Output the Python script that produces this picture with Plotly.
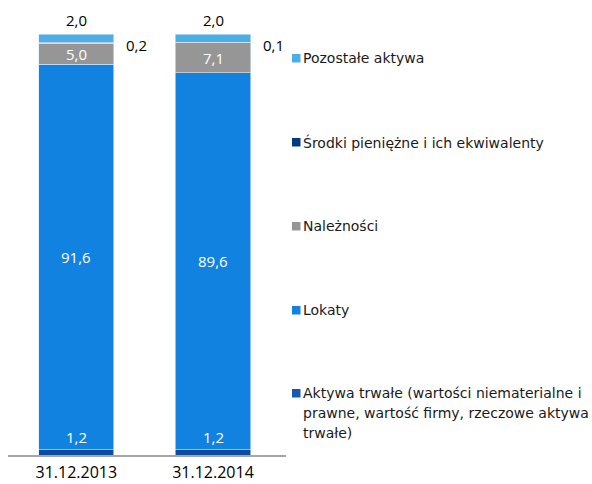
import plotly.graph_objects as go

# Asset structure (% of total), bottom to top of each stacked bar
categories = ["31.12.2013", "31.12.2014"]
series_names = [
    "Aktywa trwałe (wartości niematerialne i<br>prawne, wartość firmy, rzeczowe aktywa<br>trwałe)",
    "Lokaty",
    "Należności",
    "Środki pieniężne i ich ekwiwalenty",
    "Pozostałe aktywa",
]
aktywa_trwale = [1.2, 1.2]
lokaty = [91.6, 89.6]
naleznosci = [5.0, 7.1]
srodki = [0.2, 0.1]
pozostale = [2.0, 2.0]
series_values = [aktywa_trwale, lokaty, naleznosci, srodki, pozostale]
colors = ["#0B4C9E", "#1282E0", "#969696", "#003A7D", "#4BAEE4"]
legend_colors = ["#1A57B2", "#1282E0", "#969696", "#003D80", "#4BAEE4"]

LABEL_FONT = "Open Sans, Noto Sans, sans-serif"
LEGEND_FONT = "DejaVu Sans, Verdana, sans-serif"

def fmt(v):
    return f"{v:.1f}".replace(".", ",")

fig = go.Figure()
for name, vals, col in zip(series_names, series_values, colors):
    fig.add_trace(go.Bar(
        x=categories, y=vals, name=name,
        marker=dict(color=col, line=dict(color="#DCEBF8", width=0.6)),
        showlegend=False, hoverinfo="skip",
    ))

annotations = []
for ci, cat in enumerate(categories):
    base = 0.0
    tops = []
    for vals in series_values:
        tops.append((base, base + vals[ci]))
        base += vals[ci]
    # Aktywa trwałe: white label just above its thin segment
    b, t = tops[0]
    annotations.append(dict(x=cat, y=t, text=fmt(aktywa_trwale[ci]), yanchor="bottom",
                            yshift=1, showarrow=False,
                            font=dict(color="white", size=15, family=LABEL_FONT)))
    # Lokaty and Należności: white labels centred in the segment
    for si in (1, 2):
        b, t = tops[si]
        annotations.append(dict(x=cat, y=(b + t) / 2, text=fmt(series_values[si][ci]),
                                showarrow=False,
                                font=dict(color="white", size=15, family=LABEL_FONT)))
    # Środki pieniężne: label to the right of the bar
    b, t = tops[3]
    annotations.append(dict(x=cat, y=(b + t) / 2, text=fmt(srodki[ci]), xanchor="left",
                            xshift=48, yshift=-2, showarrow=False,
                            font=dict(color="black", size=15, family=LABEL_FONT)))
    # Pozostałe aktywa: label above the bar
    b, t = tops[4]
    annotations.append(dict(x=cat, y=t, text=fmt(pozostale[ci]), yanchor="bottom",
                            yshift=2, showarrow=False,
                            font=dict(color="black", size=15, family=LABEL_FONT)))

# Legend column on the right: square swatch + text, one row per series
PLOT_L, PLOT_R, PLOT_T, PLOT_B = 8, 286, 34, 455
def px_x(p):
    return (p - PLOT_L) / (PLOT_R - PLOT_L)
def px_y(p):
    return (PLOT_B - p) / (PLOT_B - PLOT_T)

legend_rows_y = [393, 310, 226, 142, 58]
LINE_STEP = 20
shapes = []
for name, col, yc in zip(series_names, legend_colors, legend_rows_y):
    shapes.append(dict(type="rect", xref="paper", yref="paper",
                       x0=px_x(292), x1=px_x(300.5), y0=px_y(yc + 4.5), y1=px_y(yc - 4),
                       fillcolor=col, line=dict(width=0)))
    for li, line in enumerate(name.split("<br>")):
        annotations.append(dict(xref="paper", yref="paper", x=px_x(301),
                                y=px_y(yc + li * LINE_STEP),
                                xanchor="left", yanchor="middle", align="left",
                                showarrow=False, text=line,
                                font=dict(color="#1a1a1a", size=14, family=LEGEND_FONT)))

fig.update_layout(
    width=592, height=484,
    margin=dict(l=PLOT_L, r=592 - PLOT_R, t=PLOT_T, b=484 - PLOT_B, autoexpand=False),
    barmode="stack", bargap=0.45,
    plot_bgcolor="white", paper_bgcolor="white",
    showlegend=False,
    xaxis=dict(showline=True, linecolor="#A6A6A6", linewidth=1.5, ticks="",
               ticklabelstandoff=2, automargin=False,
               tickfont=dict(size=16, color="black", family=LABEL_FONT), showgrid=False),
    yaxis=dict(range=[0, 100], visible=False, showgrid=False, automargin=False),
    annotations=annotations, shapes=shapes,
)

fig.write_html("out.html")
